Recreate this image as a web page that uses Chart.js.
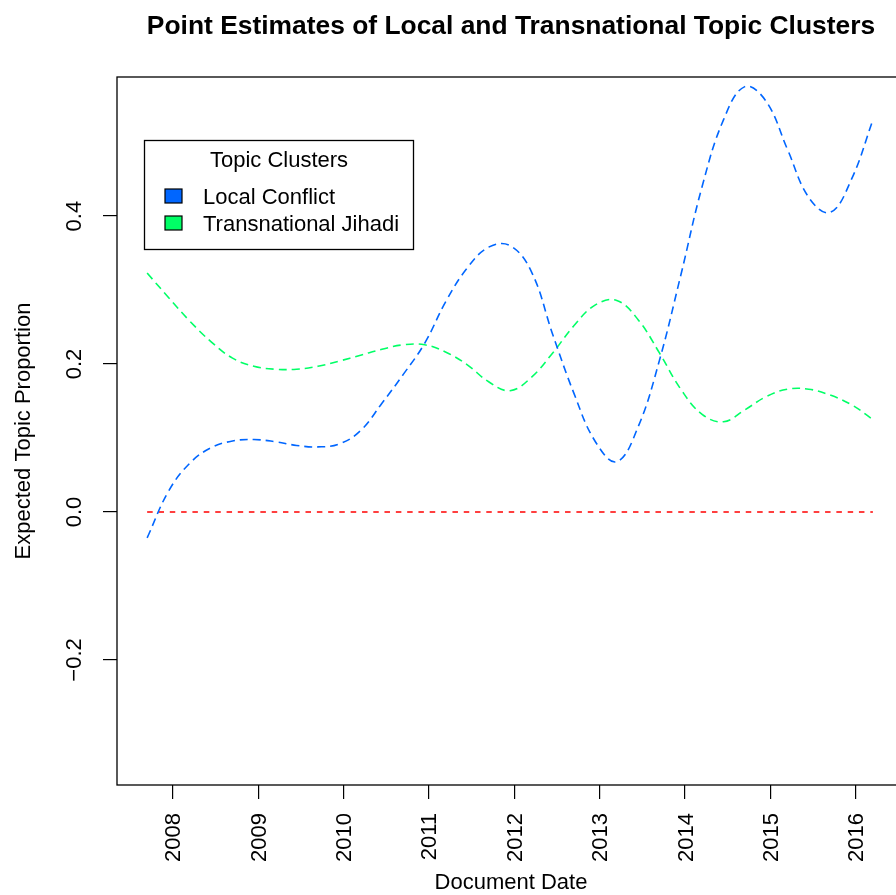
<!DOCTYPE html>
<html>
<head>
<meta charset="utf-8">
<title>Point Estimates of Local and Transnational Topic Clusters</title>
<script src="https://cdn.jsdelivr.net/npm/chart.js@4.4.1/dist/chart.umd.min.js"></script>
<style>
  html, body { margin: 0; padding: 0; background: #fff; overflow: hidden; }
  #wrap { width: 920px; height: 895px; }
  canvas { display: block; }
</style>
</head>
<body>
<div id="wrap"><canvas id="topicChart" width="920" height="895"></canvas></div>
<script>
// --- data ---
const chartTitle = 'Point Estimates of Local and Transnational Topic Clusters';
const xAxisTitle = 'Document Date';
const yAxisTitle = 'Expected Topic Proportion';
const legendTitle = 'Topic Clusters';
const seriesNames = ['Local Conflict', 'Transnational Jihadi'];

// sampled every quarter year along the curves
const documentDates = [2007.70, 2007.95, 2008.20, 2008.45, 2008.70, 2008.95, 2009.20, 2009.45, 2009.70,
  2009.95, 2010.20, 2010.45, 2010.70, 2010.95, 2011.20, 2011.45, 2011.70, 2011.95, 2012.20,
  2012.45, 2012.70, 2012.95, 2013.20, 2013.45, 2013.70, 2013.95, 2014.20, 2014.45, 2014.70,
  2014.95, 2015.20, 2015.45, 2015.70, 2015.95, 2016.20];

const localValues = [-0.035, 0.028, 0.066, 0.087, 0.096, 0.098, 0.095, 0.090, 0.088,
  0.092, 0.110, 0.147, 0.186, 0.228, 0.285, 0.330, 0.358, 0.360, 0.325,
  0.240, 0.160, 0.095, 0.068, 0.115, 0.205, 0.320, 0.440, 0.530, 0.575,
  0.555, 0.490, 0.425, 0.405, 0.450, 0.530];

const jihadiValues = [0.323, 0.290, 0.258, 0.230, 0.208, 0.197, 0.193, 0.193, 0.197,
  0.204, 0.212, 0.220, 0.226, 0.226, 0.216, 0.199, 0.176, 0.164, 0.182,
  0.215, 0.252, 0.280, 0.286, 0.260, 0.215, 0.166, 0.132, 0.122, 0.138,
  0.156, 0.166, 0.166, 0.158, 0.145, 0.125];

const zeroDates = [2007.70, 2016.20];
const zeroValues = [0, 0];

const xTickYears = [2008, 2009, 2010, 2011, 2012, 2013, 2014, 2015, 2016];
const yTickValues = [-0.2, 0.0, 0.2, 0.4];

const chartFont = '"Liberation Sans", Arial, Helvetica, sans-serif';
const blue = '#0066FF';
const green = '#00FF66';
const red = '#FF0000';

const toPoints = (xs, ys) => xs.map((x, i) => ({ x: x, y: ys[i] }));
const fmtTick = v => v.toFixed(1).replace('-', '\u2212');

// R-style frame, titles, rotated tick labels and the legend box
const rPlotDecor = {
  id: 'rPlotDecor',
  afterDraw(chart) {
    const { ctx, chartArea: a, scales } = chart;
    const xs = scales.x;
    const ys = scales.y;
    const cx = (a.left + a.right) / 2;

    ctx.save();
    ctx.strokeStyle = '#000';
    ctx.lineWidth = 1.3;
    ctx.strokeRect(a.left, a.top, a.right - a.left, a.bottom - a.top);

    ctx.fillStyle = '#000';
    ctx.textBaseline = 'alphabetic';

    // main title
    ctx.font = `bold 26.4px ${chartFont}`;
    ctx.textAlign = 'center';
    ctx.fillText(chartTitle, cx, 34);

    // x axis title
    ctx.font = `22px ${chartFont}`;
    ctx.fillText(xAxisTitle, cx, 889);

    // y axis title
    ctx.save();
    ctx.translate(29.5, (a.top + a.bottom) / 2);
    ctx.rotate(-Math.PI / 2);
    ctx.fillText(yAxisTitle, 0, 0);
    ctx.restore();

    // y tick labels, parallel to the axis
    yTickValues.forEach(v => {
      ctx.save();
      ctx.translate(81, ys.getPixelForValue(v));
      ctx.rotate(-Math.PI / 2);
      ctx.textAlign = 'center';
      ctx.fillText(fmtTick(v), 0, 0);
      ctx.restore();
    });

    // x tick labels, perpendicular to the axis
    xTickYears.forEach(yr => {
      ctx.save();
      ctx.translate(xs.getPixelForValue(yr) + 7.5, 813);
      ctx.rotate(-Math.PI / 2);
      ctx.textAlign = 'right';
      ctx.fillText(String(yr), 0, 0);
      ctx.restore();
    });

    // legend
    const lx = 144.5, ly = 140.5, lw = 269, lh = 109;
    ctx.fillStyle = '#fff';
    ctx.fillRect(lx, ly, lw, lh);
    ctx.strokeStyle = '#000';
    ctx.lineWidth = 1.3;
    ctx.strokeRect(lx, ly, lw, lh);
    ctx.fillStyle = '#000';
    ctx.textAlign = 'center';
    ctx.fillText(legendTitle, lx + lw / 2, 167);
    ctx.textAlign = 'left';
    chart.data.datasets.slice(0, 2).forEach((ds, i) => {
      const top = 189 + i * 27;
      ctx.fillStyle = ds.borderColor;
      ctx.fillRect(165, top, 17, 14);
      ctx.strokeStyle = '#000';
      ctx.lineWidth = 1.2;
      ctx.strokeRect(165, top, 17, 14);
      ctx.fillStyle = '#000';
      ctx.fillText(ds.label, 203, top + 15);
    });
    ctx.restore();
  }
};

const lineStyle = {
  borderWidth: 1.6,
  pointRadius: 0,
  pointHoverRadius: 0,
  fill: false,
  tension: 0.4
};

new Chart(document.getElementById('topicChart').getContext('2d'), {
  type: 'line',
  data: {
    datasets: [
      Object.assign({ label: seriesNames[0], data: toPoints(documentDates, localValues),
        borderColor: blue, borderDash: [8, 5] }, lineStyle),
      Object.assign({ label: seriesNames[1], data: toPoints(documentDates, jihadiValues),
        borderColor: green, borderDash: [8, 5] }, lineStyle),
      Object.assign({ label: 'zero', data: toPoints(zeroDates, zeroValues),
        borderColor: red, borderDash: [5.5, 5.8] }, lineStyle)
    ]
  },
  options: {
    responsive: false,
    animation: false,
    devicePixelRatio: 1,
    layout: { padding: { top: 77, right: 15, left: 0, bottom: 0 } },
    plugins: {
      legend: { display: false },
      title: { display: false },
      tooltip: { enabled: false }
    },
    scales: {
      x: {
        type: 'linear',
        min: 2007.347,
        max: 2016.576,
        afterBuildTicks: s => { s.ticks = xTickYears.map(v => ({ value: v })); },
        afterFit: s => { s.height = 110; },
        border: { display: false },
        grid: { drawOnChartArea: false, drawTicks: true, tickLength: 14, color: '#000', lineWidth: 1.2 },
        ticks: { display: false }
      },
      y: {
        type: 'linear',
        min: -0.369,
        max: 0.588,
        afterBuildTicks: s => { s.ticks = yTickValues.map(v => ({ value: v })); },
        afterFit: s => { s.width = 117; },
        border: { display: false },
        grid: { drawOnChartArea: false, drawTicks: true, tickLength: 14, color: '#000', lineWidth: 1.2 },
        ticks: { display: false }
      }
    }
  },
  plugins: [rPlotDecor]
});
</script>
</body>
</html>
